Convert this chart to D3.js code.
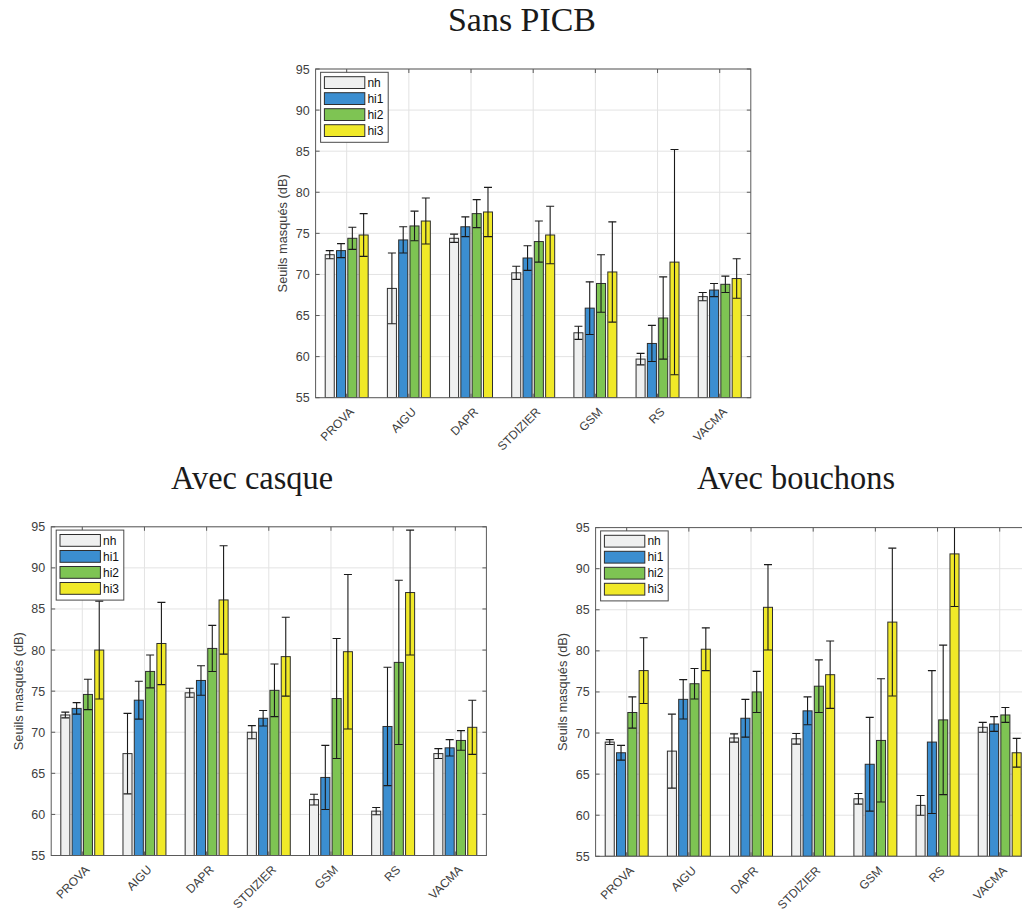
<!DOCTYPE html>
<html><head><meta charset="utf-8">
<script src="https://cdn.jsdelivr.net/npm/d3@7"></script>
<style>
html,body{margin:0;padding:0;background:#fff;}
svg{display:block;}
</style></head>
<body>
<svg id="chart" width="1022" height="913"></svg>
<script>
// ---------- DATA ----------
const categories = ["PROVA","AIGU","DAPR","STDIZIER","GSM","RS","VACMA"];
const seriesNames = ["nh","hi1","hi2","hi3"];
const yTicks = [55,60,65,70,75,80,85,90,95];
const yLabel = "Seuils masqués (dB)";

// Sans PICB
const sans_nh   = [72.4, 68.3, 74.4, 70.2, 62.9, 59.7, 67.3];
const sans_hi1  = [72.9, 74.2, 75.8, 72.0, 65.9, 61.6, 68.1];
const sans_hi2  = [74.4, 75.9, 77.4, 74.0, 68.9, 64.7, 68.8];
const sans_hi3  = [74.8, 76.5, 77.6, 74.8, 70.3, 71.5, 69.5];
const sansErr_nh  = [0.5, 4.3, 0.5, 0.8, 0.8, 0.7, 0.5];
const sansErr_hi1 = [0.85, 1.6, 1.2, 1.5, 3.2, 2.2, 0.8];
const sansErr_hi2 = [1.35, 1.8, 1.7, 2.5, 3.5, 5.0, 1.0];
const sansErr_hi3 = [2.6, 2.8, 3.0, 3.5, 6.1, 13.7, 2.4];

// Avec casque
const casque_nh   = [72.1, 67.4, 74.8, 70.0, 61.8, 60.4, 67.4];
const casque_hi1  = [72.9, 73.9, 76.3, 71.7, 64.5, 70.7, 68.1];
const casque_hi2  = [74.6, 77.4, 80.2, 75.1, 74.1, 78.5, 69.0];
const casque_hi3  = [80.0, 80.8, 86.1, 79.2, 79.8, 87.0, 70.6];
const casqueErr_nh  = [0.35, 4.9, 0.55, 0.8, 0.65, 0.45, 0.6];
const casqueErr_hi1 = [0.7, 2.3, 1.8, 0.95, 3.9, 7.2, 1.0];
const casqueErr_hi2 = [1.85, 2.0, 2.8, 3.2, 7.3, 10.0, 1.2];
const casqueErr_hi3 = [5.95, 5.0, 6.6, 4.8, 9.4, 7.6, 3.3];

// Avec bouchons
const bouchons_nh   = [68.9, 67.8, 69.4, 69.3, 62.0, 61.2, 70.7];
const bouchons_hi1  = [67.6, 74.1, 71.8, 72.7, 66.2, 68.9, 71.1];
const bouchons_hi2  = [72.5, 76.0, 75.0, 75.7, 69.1, 71.6, 72.2];
const bouchons_hi3  = [77.6, 80.2, 85.3, 77.1, 83.5, 91.8, 67.6];
const bouchonsErr_nh  = [0.3, 4.5, 0.5, 0.65, 0.65, 1.2, 0.6];
const bouchonsErr_hi1 = [0.9, 2.4, 2.3, 1.7, 5.7, 8.7, 0.9];
const bouchonsErr_hi2 = [1.9, 1.85, 2.5, 3.2, 7.5, 9.1, 0.9];
const bouchonsErr_hi3 = [4.0, 2.6, 5.2, 4.1, 9.0, 6.4, 1.75];

const colors = ["#eff0f0", "#3b8ed0", "#7ec453", "#f0e928"];

// ---------- LAYOUT ----------
const panels = [
  {id:"p1", title:"Sans PICB", titleX:522, titleW:148, left:315.6, right:750.8, top:69, height:328.7,
   means:[sans_nh,sans_hi1,sans_hi2,sans_hi3], errs:[sansErr_nh,sansErr_hi1,sansErr_hi2,sansErr_hi3]},
  {id:"p2", title:"Avec casque", titleX:252, titleW:162, left:51.2, right:486.4, top:526.8, height:328.7,
   means:[casque_nh,casque_hi1,casque_hi2,casque_hi3], errs:[casqueErr_nh,casqueErr_hi1,casqueErr_hi2,casqueErr_hi3]},
  {id:"p3", title:"Avec bouchons", titleX:796, titleW:198, left:595.6, right:1030.8, top:527.6, height:328.7,
   means:[bouchons_nh,bouchons_hi1,bouchons_hi2,bouchons_hi3], errs:[bouchonsErr_nh,bouchonsErr_hi1,bouchonsErr_hi2,bouchonsErr_hi3]}
];

const svg = d3.select("#chart");
const sansFont = "'Liberation Sans', Arial, Helvetica, sans-serif";
const textColor = "#404040";
const axisColor = "#5a5a5a";

panels.forEach(p => {
  const bottom = p.top + p.height;
  const x = d3.scaleBand().domain(categories).range([p.left, p.right]).paddingInner(0).paddingOuter(0);
  const groupW = x.bandwidth() * 0.7273;
  const xs = d3.scaleBand().domain(seriesNames).range([-groupW/2, groupW/2]).paddingInner(0.2).paddingOuter(0.1);
  const y = d3.scaleLinear().domain([55,95]).range([bottom, p.top]);
  const g = svg.append("g");

  svg.append("clipPath").attr("id","clip-"+p.id).append("rect")
    .attr("x", p.left).attr("y", p.top).attr("width", p.right-p.left).attr("height", p.height);

  // grid
  const grid = g.append("g").attr("stroke","#e3e3e3").attr("stroke-width",1);
  yTicks.forEach(t => grid.append("line").attr("x1",p.left).attr("x2",p.right).attr("y1",y(t)).attr("y2",y(t)));
  categories.forEach(c => grid.append("line").attr("x1",x(c)+x.bandwidth()/2).attr("x2",x(c)+x.bandwidth()/2).attr("y1",p.top).attr("y2",bottom));

  // bars
  const marks = g.append("g").attr("clip-path","url(#clip-"+p.id+")");
  seriesNames.forEach((s, si) => {
    categories.forEach((c, ci) => {
      const v = p.means[si][ci];
      const bx = x(c) + x.bandwidth()/2 + xs(s);
      marks.append("rect")
        .attr("x", bx).attr("width", xs.bandwidth())
        .attr("y", y(v)).attr("height", y(55) - y(v))
        .attr("fill", colors[si]).attr("stroke", "#2e2e2e").attr("stroke-width", 1);
    });
  });
  // error bars
  seriesNames.forEach((s, si) => {
    categories.forEach((c, ci) => {
      const v = p.means[si][ci], e = p.errs[si][ci];
      const cx = x(c) + x.bandwidth()/2 + xs(s) + xs.bandwidth()/2;
      const eg = marks.append("g").attr("stroke","#1a1a1a").attr("stroke-width",1.1);
      eg.append("line").attr("x1",cx).attr("x2",cx).attr("y1",y(v-e)).attr("y2",y(v+e));
      [v-e, v+e].forEach(t => eg.append("line").attr("x1",cx-4).attr("x2",cx+4).attr("y1",y(t)).attr("y2",y(t)));
    });
  });

  // axes box
  const ax = g.append("g").attr("stroke",axisColor).attr("stroke-width",1).attr("fill","none");
  ax.append("rect").attr("x",p.left).attr("y",p.top).attr("width",p.right-p.left).attr("height",p.height);
  yTicks.forEach(t => {
    ax.append("line").attr("x1",p.left).attr("x2",p.left+4).attr("y1",y(t)).attr("y2",y(t));
    ax.append("line").attr("x1",p.right).attr("x2",p.right-4).attr("y1",y(t)).attr("y2",y(t));
  });
  categories.forEach(c => {
    const cx = x(c)+x.bandwidth()/2;
    ax.append("line").attr("x1",cx).attr("x2",cx).attr("y1",p.top).attr("y2",p.top+4);
    ax.append("line").attr("x1",cx).attr("x2",cx).attr("y1",bottom).attr("y2",bottom-4);
  });

  // y axis labels
  const yAxis = d3.axisLeft(y).tickValues(yTicks).tickSize(0).tickPadding(6);
  const ya = g.append("g").attr("transform",`translate(${p.left},0)`).call(yAxis);
  ya.select(".domain").remove();
  ya.selectAll("text").attr("font-family",sansFont).attr("font-size",12.5).attr("fill",textColor);

  // x labels (rotated)
  const xAxis = d3.axisBottom(x).tickSize(0).tickPadding(0);
  const xa = g.append("g").attr("transform",`translate(0,${bottom})`).call(xAxis);
  xa.select(".domain").remove();
  xa.selectAll("text")
    .attr("font-family",sansFont).attr("font-size",12).attr("fill",textColor)
    .attr("text-anchor","end").attr("dy","0.35em")
    .attr("transform","translate(5,12) rotate(-45)");

  // y label
  g.append("text")
    .attr("transform",`translate(${p.left-33},${p.top+p.height/2}) rotate(-90)`)
    .attr("text-anchor","middle").attr("dy","0.35em")
    .attr("font-family",sansFont).attr("font-size",12.8).attr("fill",textColor)
    .text(yLabel);

  // title
  g.append("text")
    .attr("x", p.titleX - p.titleW/2).attr("y", p.top - 38.3)
    .attr("text-anchor","start")
    .attr("textLength", p.titleW).attr("lengthAdjust","spacingAndGlyphs")
    .attr("font-family","'Liberation Serif','Times New Roman',serif").attr("font-size",34).attr("fill","#1a1a1a")
    .text(p.title);

  // legend
  const lg = g.append("g").attr("transform",`translate(${p.left+5},${p.top+3.3})`);
  lg.append("rect").attr("width",67.6).attr("height",70).attr("fill","#fff").attr("stroke","#4a4a4a").attr("stroke-width",1);
  seriesNames.forEach((s, si) => {
    lg.append("rect").attr("x",3.8).attr("y",4.4 + si*16).attr("width",40.4).attr("height",11.8)
      .attr("fill",colors[si]).attr("stroke","#2e2e2e").attr("stroke-width",1);
    lg.append("text").attr("x",46.8).attr("y",4.4 + si*16 + 5.9).attr("dy","0.35em")
      .attr("font-family",sansFont).attr("font-size",12).attr("fill","#111").text(s);
  });
});
</script>
</body></html>
